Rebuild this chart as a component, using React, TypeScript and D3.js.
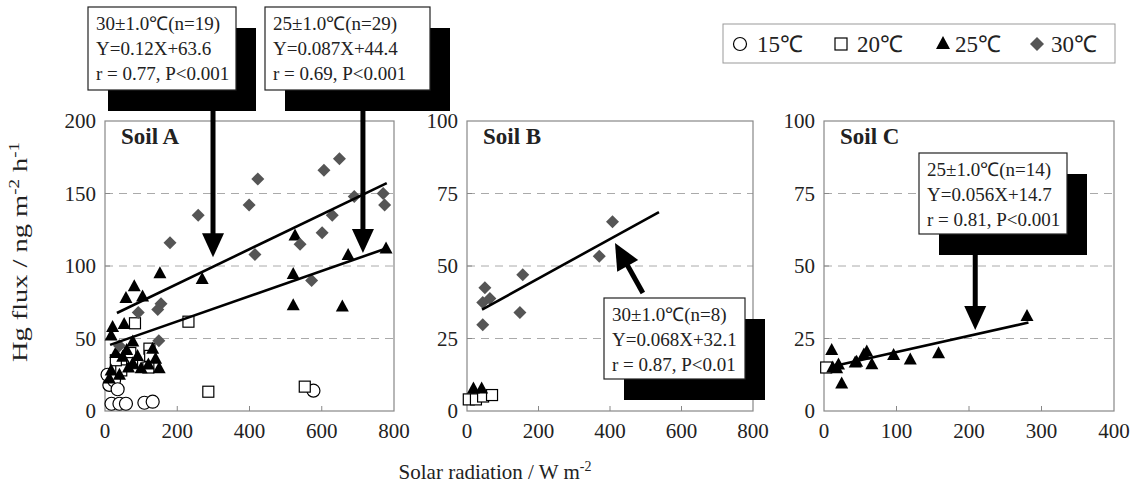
import React from "react";
import * as d3 from "d3";

// ---------- data ----------
// Soil A
const a15x = [7, 12, 25, 35, 18, 40, 58, 109, 132, 577];
const a15y = [25, 18, 21, 15, 5, 5, 5, 5.7, 6.4, 14];
const a20x = [83, 231, 286, 553, 123, 125, 70, 75, 45, 30, 120];
const a20y = [60.5, 61.6, 13.3, 16.8, 43, 38, 40, 33, 28, 35, 30];
const a25x = [269, 521, 521, 657, 673, 778, 526, 152, 81, 58, 104, 21, 53, 17, 77, 132, 49, 77, 100, 150, 17, 12, 30, 60, 90, 140, 40, 65, 120];
const a25y = [91, 94.5, 73, 72, 107.6, 112, 121, 95, 86, 78, 79, 58, 60, 52, 48, 43, 37.5, 33, 29.4, 29.4, 28, 22.5, 40, 42, 38, 36, 25, 30, 32];
const a30x = [258, 423, 399, 415, 606, 649, 629, 601, 540, 690, 770, 774, 572, 180, 155, 92, 149, 40, 146];
const a30y = [135, 160, 142, 108, 166, 174, 135, 123, 115, 148, 150, 142, 90, 116, 74, 68, 48.5, 45, 70];
// Soil B
const b20x = [5, 25, 45, 70];
const b20y = [4, 4, 5, 5.5];
const b25x = [18, 41];
const b25y = [7.8, 7.8];
const b30x = [407, 370, 156, 148, 50, 64, 44, 44];
const b30y = [65.3, 53.4, 47, 34, 42.5, 38.8, 37.4, 29.7];
// Soil C
const c20x = [3];
const c20y = [15];
const c25x = [10.6, 12, 17.5, 24.4, 43, 45, 55, 59, 66, 96, 119, 158, 280, 20];
const c25y = [21, 15, 14.7, 9.5, 16.7, 17, 19.5, 20.5, 16.1, 19.3, 17.8, 19.9, 32.8, 16];

// regressions: slope, intercept, x range
const regA30 = { m: 0.12, b: 63.6, x0: 33, x1: 780 };
const regA25 = { m: 0.087, b: 44.4, x0: 14, x1: 780 };
const regB30 = { m: 0.068, b: 32.1, x0: 42, x1: 537 };
const regC25 = { m: 0.056, b: 14.7, x0: 11, x1: 282 };

const panelNames = ["Soil A", "Soil B", "Soil C"];
const xTicksAB = [0, 200, 400, 600, 800];
const xTicksC = [0, 100, 200, 300, 400];
const yTicksA = [0, 50, 100, 150, 200];
const yTicksBC = [0, 25, 50, 75, 100];

const legendLabels = ["15℃", "20℃", "25℃", "30℃"];

const boxA30 = ["30±1.0℃(n=19)", "Y=0.12X+63.6", "r = 0.77, P<0.001"];
const boxA25 = ["25±1.0℃(n=29)", "Y=0.087X+44.4", "r = 0.69, P<0.001"];
const boxB30 = ["30±1.0℃(n=8)", "Y=0.068X+32.1", "r = 0.87, P<0.01"];
const boxC25 = ["25±1.0℃(n=14)", "Y=0.056X+14.7", "r = 0.81, P<0.001"];

// arrows in data coords: [tailX, tailY, tipX, tipY]
const arrowA30 = [299, 209, 299, 106];
const arrowA25 = [714, 209, 714, 109];
const arrowB30 = [492, 40.7, 414, 57.9];
const arrowC25 = [208.6, 53.8, 208.6, 27.9];

// ---------- layout ----------
const W = 1136, H = 488;
const FONT = "'Liberation Serif', 'Times New Roman', serif";
const top = 121, bottom = 411;

type Panel = { x0: number; x1: number; xmax: number; ymax: number; xt: number[]; yt: number[] };
const panels: Panel[] = [
  { x0: 105, x1: 394, xmax: 800, ymax: 200, xt: xTicksAB, yt: yTicksA },
  { x0: 467, x1: 753, xmax: 800, ymax: 100, xt: xTicksAB, yt: yTicksBC },
  { x0: 824, x1: 1114, xmax: 400, ymax: 100, xt: xTicksC, yt: yTicksBC },
];

const scales = panels.map((p) => ({
  x: d3.scaleLinear().domain([0, p.xmax]).range([p.x0, p.x1]),
  y: d3.scaleLinear().domain([0, p.ymax]).range([bottom, top]),
}));

const zip = (xs: number[], ys: number[]) => xs.map((x, i) => [x, ys[i]] as [number, number]);

function Marker({ type, cx, cy }: { type: string; cx: number; cy: number }) {
  if (type === "c") return <circle cx={cx} cy={cy} r={6.5} fill="#fff" stroke="#000" strokeWidth={1.2} />;
  if (type === "s") return <rect x={cx - 5.5} y={cy - 5.5} width={11} height={11} fill="#fff" stroke="#000" strokeWidth={1.2} />;
  if (type === "t") {
    const p = d3.path();
    p.moveTo(cx, cy - 7); p.lineTo(cx + 6.5, cy + 5); p.lineTo(cx - 6.5, cy + 5); p.closePath();
    return <path d={p.toString()} fill="#000" />;
  }
  const p = d3.path();
  p.moveTo(cx, cy - 6.5); p.lineTo(cx + 6.5, cy); p.lineTo(cx, cy + 6.5); p.lineTo(cx - 6.5, cy); p.closePath();
  return <path d={p.toString()} fill="#555" />;
}

function Series({ pi, pts, type }: { pi: number; pts: [number, number][]; type: string }) {
  const s = scales[pi];
  return <g>{pts.map((d, i) => <Marker key={i} type={type} cx={s.x(d[0])} cy={s.y(d[1])} />)}</g>;
}

function Reg({ pi, r }: { pi: number; r: { m: number; b: number; x0: number; x1: number } }) {
  const s = scales[pi];
  const line = d3.line<number>().x((x) => s.x(x)).y((x) => s.y(r.m * x + r.b));
  return <path d={line([r.x0, r.x1]) || ""} stroke="#000" strokeWidth={2.6} fill="none" />;
}

function Arrow({ pi, a, hl = 24, hw = 11 }: { pi: number; a: number[]; hl?: number; hw?: number }) {
  const s = scales[pi];
  const x1 = s.x(a[0]), y1 = s.y(a[1]), x2 = s.x(a[2]), y2 = s.y(a[3]);
  const dx = x2 - x1, dy = y2 - y1, len = Math.hypot(dx, dy);
  const ux = dx / len, uy = dy / len;
  const bx = x2 - ux * hl, by = y2 - uy * hl;
  const p = d3.path();
  p.moveTo(x2, y2); p.lineTo(bx - uy * hw, by + ux * hw); p.lineTo(bx + uy * hw, by - ux * hw); p.closePath();
  return (
    <g>
      <line x1={x1} y1={y1} x2={bx + ux * 2} y2={by + uy * 2} stroke="#000" strokeWidth={5} />
      <path d={p.toString()} fill="#000" />
    </g>
  );
}

function Box({ x, y, w, h, lines, sx = 20, sy = 21 }: { x: number; y: number; w: number; h: number; lines: string[]; sx?: number; sy?: number }) {
  return (
    <g>
      <rect x={x + sx} y={y + sy} width={w} height={h} fill="#000" />
      <rect x={x} y={y} width={w} height={h} fill="#fff" stroke="#222" strokeWidth={1.2} />
      {lines.map((t, i) => (
        <text key={i} x={x + 8} y={y + 23 + i * 25} fontFamily={FONT} fontSize={19} fill="#222">{t}</text>
      ))}
    </g>
  );
}

export default function App() {
  return (
    <svg width={W} height={H} style={{ display: "block", position: "absolute", left: 0, top: 0, background: "#fff" }}>
      <rect x={0} y={0} width={W} height={H} fill="#fff" />
      {panels.map((p, pi) => {
        const s = scales[pi];
        return (
          <g key={pi}>
            {p.yt.slice(1, -1).map((t) => (
              <line key={t} x1={p.x0} x2={p.x1} y1={s.y(t)} y2={s.y(t)} stroke="#aaa" strokeDasharray="8,6" strokeWidth={1} />
            ))}
            <rect x={p.x0} y={top} width={p.x1 - p.x0} height={bottom - top} fill="none" stroke="#888" strokeWidth={1.2} />
            {p.xt.slice(1, -1).map((t) => (
              <line key={t} x1={s.x(t)} x2={s.x(t)} y1={bottom} y2={bottom - 5} stroke="#888" />
            ))}
            {p.yt.slice(1, -1).map((t) => (
              <line key={t} x1={p.x0} x2={p.x0 + 5} y1={s.y(t)} y2={s.y(t)} stroke="#888" />
            ))}
            {p.xt.map((t) => (
              <text key={t} x={s.x(t)} y={438} textAnchor="middle" fontFamily={FONT} fontSize={21} fill="#222">{t}</text>
            ))}
            {p.yt.map((t) => (
              <text key={t} x={p.x0 - 9} y={s.y(t) + 7} textAnchor="end" fontFamily={FONT} fontSize={21} fill="#222">{t}</text>
            ))}
            <text x={p.x0 + 16} y={144} fontFamily={FONT} fontSize={23} fontWeight="bold" fill="#222">{panelNames[pi]}</text>
          </g>
        );
      })}

      {/* Soil A points */}
      <Series pi={0} pts={zip(a15x, a15y)} type="c" />
      <Series pi={0} pts={zip(a20x, a20y)} type="s" />
      <Series pi={0} pts={zip(a25x, a25y)} type="t" />
      <Series pi={0} pts={zip(a30x, a30y)} type="d" />
      <Reg pi={0} r={regA30} />
      <Reg pi={0} r={regA25} />
      {/* Soil B */}
      <Series pi={1} pts={zip(b20x, b20y)} type="s" />
      <Series pi={1} pts={zip(b25x, b25y)} type="t" />
      <Series pi={1} pts={zip(b30x, b30y)} type="d" />
      <Reg pi={1} r={regB30} />
      {/* Soil C */}
      <Series pi={2} pts={zip(c20x, c20y)} type="s" />
      <Series pi={2} pts={zip(c25x, c25y)} type="t" />
      <Reg pi={2} r={regC25} />

      {/* annotation boxes and arrows */}
      <Box x={88} y={7} w={148} h={83} lines={boxA30} />
      <Box x={265} y={7} w={165} h={83} lines={boxA25} />
      <Arrow pi={0} a={arrowA30} />
      <Arrow pi={0} a={arrowA25} />
      <Box x={604} y={298} w={141} h={81} lines={boxB30} />
      <Arrow pi={1} a={arrowB30} hl={26} hw={12} />
      <Box x={919} y={153} w={148} h={81} lines={boxC25} />
      <Arrow pi={2} a={arrowC25} hl={24} hw={11} />

      {/* legend */}
      <g>
        <rect x={723} y={24} width={392} height={39} fill="#fff" stroke="#999" strokeWidth={1} />
        <circle cx={740} cy={44} r={6.5} fill="#fff" stroke="#000" strokeWidth={1.2} />
        <text x={757} y={52} fontFamily={FONT} fontSize={23} fill="#222">{legendLabels[0]}</text>
        <rect x={835} y={38} width={12} height={12} fill="#fff" stroke="#000" strokeWidth={1.2} />
        <text x={857} y={52} fontFamily={FONT} fontSize={23} fill="#222">{legendLabels[1]}</text>
        <path d={`M${943},${36} L${950},${49} L${936},${49} Z`} fill="#000" />
        <text x={955} y={52} fontFamily={FONT} fontSize={23} fill="#222">{legendLabels[2]}</text>
        <path d={`M${1037},${37} L${1044},${44} L${1037},${51} L${1030},${44} Z`} fill="#555" />
        <text x={1051} y={52} fontFamily={FONT} fontSize={23} fill="#222">{legendLabels[3]}</text>
      </g>

      {/* axis titles */}
      <text transform="translate(27,252) rotate(-90)" textAnchor="middle" fontFamily={FONT} fontSize={21} fill="#222"
        textLength={220} lengthAdjust="spacingAndGlyphs">
        Hg flux / ng m<tspan dy={-8} fontSize={14}>-2</tspan><tspan dy={8}> h</tspan><tspan dy={-8} fontSize={14}>-1</tspan>
      </text>
      <text x={495} y={479} textAnchor="middle" fontFamily={FONT} fontSize={21} fill="#222">
        Solar radiation / W m<tspan dy={-8} fontSize={14}>-2</tspan>
      </text>
    </svg>
  );
}
